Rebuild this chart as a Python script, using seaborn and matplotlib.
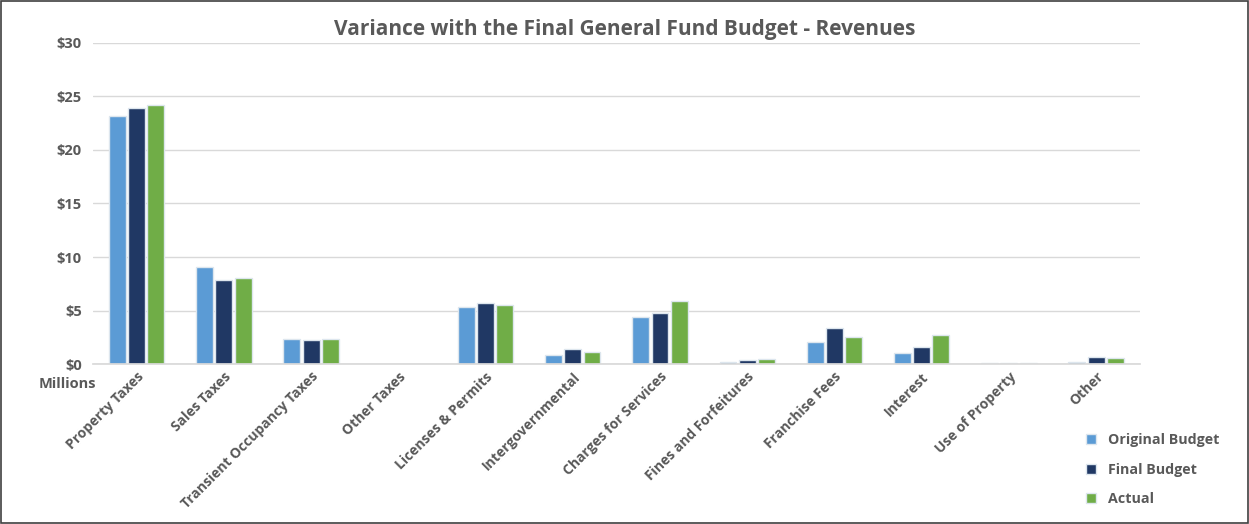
import matplotlib
matplotlib.use("Agg")
import matplotlib.pyplot as plt
import seaborn as sns
import pandas as pd
from matplotlib.patches import Rectangle

categories = ["Property Taxes", "Sales Taxes", "Transient Occupancy Taxes", "Other Taxes",
              "Licenses & Permits", "Intergovernmental", "Charges for Services",
              "Fines and Forfeitures", "Franchise Fees", "Interest", "Use of Property", "Other"]
original_budget = [23.2, 9.1, 2.35, 0.03, 5.35, 0.87, 4.42, 0.19, 2.09, 1.0, 0.05, 0.22]
final_budget    = [23.9, 7.85, 2.25, 0.03, 5.7, 1.37, 4.74, 0.37, 3.34, 1.57, 0.05, 0.62]
actual          = [24.2, 8.05, 2.35, 0.03, 5.5, 1.15, 5.92, 0.5, 2.55, 2.7, 0.05, 0.53]
series_names = ["Original Budget", "Final Budget", "Actual"]
y_ticks = [0, 5, 10, 15, 20, 25, 30]
y_tick_labels = ["$0", "$5", "$10", "$15", "$20", "$25", "$30"]

rows = []
for name, vals in zip(series_names, [original_budget, final_budget, actual]):
    for c, v in zip(categories, vals):
        rows.append({"Category": c, "Series": name, "Value": v})
df = pd.DataFrame(rows)

sns.set_theme(style="white")
plt.rcParams['font.family'] = ['Open Sans', 'DejaVu Sans']
text_color = "#595959"

fig = plt.figure(figsize=(12.49, 5.24), dpi=100)
ax = fig.add_axes([0.0745, 0.3053, 0.838, 0.6127])

palette = ["#5B9BD5", "#203864", "#70AD47"]
sns.barplot(data=df, x="Category", y="Value", hue="Series", order=categories,
            hue_order=series_names, palette=palette, width=0.66, gap=0.12,
            edgecolor="#DDE6EE", linewidth=1.0, saturation=1, ax=ax, legend=True)

ax.set_ylim(0, 30)
ax.set_xlim(-0.5, len(categories) - 0.5)
ax.set_yticks(y_ticks)
ax.set_yticklabels(y_tick_labels, fontsize=10.5, fontweight="bold", color=text_color)
ax.yaxis.grid(True, color="#D9D9D9", linewidth=1.0)
ax.set_axisbelow(True)
for s in ["top", "right", "left"]:
    ax.spines[s].set_visible(False)
ax.spines["bottom"].set_color("#D9D9D9")
ax.tick_params(axis="both", length=0, pad=8)
ax.tick_params(axis="x", pad=4)
ax.set_xticks(range(len(categories)))
ax.set_xticklabels(categories, rotation=45, ha="right", rotation_mode="anchor",
                   fontsize=10, fontweight="bold", color=text_color)
ax.set_xlabel("")
ax.set_ylabel("")

ax.set_title("Variance with the Final General Fund Budget - Revenues", fontsize=15,
             fontweight="bold", color=text_color, pad=6, x=0.508)

fig.text(0.077, 0.268, "Millions", ha="right", va="center", fontsize=10.5,
         fontweight="bold", color=text_color)

handles, labels = ax.get_legend_handles_labels()
ax.get_legend().remove()
leg = fig.legend(handles, labels, loc="upper left", bbox_to_anchor=(0.865, 0.185),
                 frameon=False, fontsize=10.3, handlelength=0.7, handleheight=0.7,
                 labelspacing=1.1, handletextpad=0.8, borderaxespad=0)
for t in leg.get_texts():
    t.set_color(text_color)
    t.set_fontweight("bold")

fig.patches.append(Rectangle((0.001, 0.001), 0.998, 0.997, transform=fig.transFigure,
                             fill=False, edgecolor="#404040", linewidth=1.2))

fig.savefig("out.png", dpi=100)
